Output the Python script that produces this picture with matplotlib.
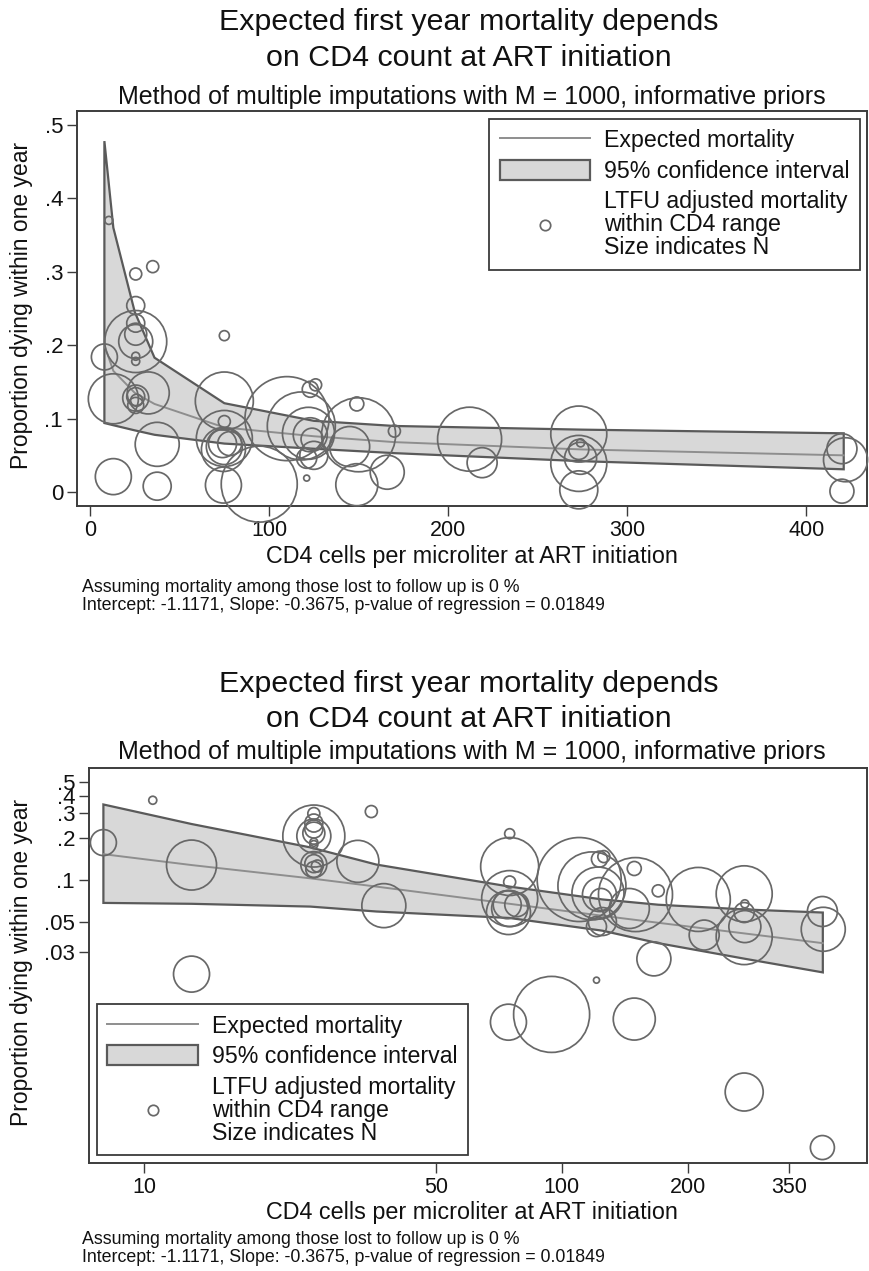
import numpy as np
import matplotlib
matplotlib.use("Agg")
import matplotlib.pyplot as plt
from matplotlib.lines import Line2D
from matplotlib.patches import Patch

plt.rcParams['font.family'] = ['Liberation Sans', 'DejaVu Sans']

# ---------------- data ----------------
# LTFU adjusted mortality within CD4 range (circles); size_n ~ N (area)
cd4 = [8, 10.5, 13, 13, 25.5, 25.5, 25.5, 25.5, 25.5, 25.5, 25.5, 25.5,
       25.5, 25.5, 26, 25.5, 32.5, 35, 37.5, 37.5,
       75, 75, 75, 75, 74.5, 74, 78, 75, 74.5, 94.5,
       110, 118, 122, 123, 124, 123, 126, 121, 125, 121,
       149, 150, 145, 170, 149, 166,
       212, 219, 273, 274, 273, 274, 273, 273,
       420, 422, 420]
mort = [0.184, 0.37, 0.127, 0.021, 0.205, 0.205, 0.297, 0.254, 0.230, 0.215, 0.185, 0.178,
        0.128, 0.130, 0.125, 0.118, 0.135, 0.307, 0.065, 0.008,
        0.213, 0.124, 0.096, 0.073, 0.058, 0.066, 0.066, 0.062, 0.0095, 0.0108,
        0.100, 0.090, 0.080, 0.078, 0.072, 0.140, 0.146, 0.046, 0.050, 0.019,
        0.120, 0.078, 0.062, 0.083, 0.010, 0.027,
        0.072, 0.040, 0.079, 0.067, 0.058, 0.046, 0.039, 0.003,
        0.059, 0.044, 0.0012]
size_n = [169, 16, 625, 324, 961, 289, 36, 81, 81, 121, 16, 16,
          169, 81, 36, 64, 441, 36, 484, 196,
          25, 841, 36, 784, 484, 196, 144, 324, 324, 1444,
          1764, 1156, 676, 289, 121, 64, 36, 100, 196, 9,
          49, 1369, 400, 36, 441, 289,
          1024, 225, 784, 16, 100, 256, 784, 361,
          225, 484, 144]

# Expected mortality and 95% CI
band_cd4 = [8, 13, 25, 36, 75, 125, 170, 275, 421]
lin_upper = [0.478, 0.36, 0.245, 0.183, 0.121, 0.097, 0.090, 0.085, 0.080]
lin_lower = [0.094, 0.091, 0.084, 0.078, 0.066, 0.059, 0.053, 0.042, 0.031]
lin_mid = [0.20, 0.165, 0.135, 0.12, 0.088, 0.076, 0.068, 0.058, 0.050]
log_upper = [0.345, 0.25, 0.17, 0.128, 0.089, 0.072, 0.066, 0.061, 0.058]
log_lower = [0.068, 0.067, 0.064, 0.059, 0.053, 0.043, 0.035, 0.027, 0.0216]
log_mid = [0.152, 0.127, 0.102, 0.089, 0.067, 0.055, 0.049, 0.041, 0.035]

lin_yticks = [0, 0.1, 0.2, 0.3, 0.4, 0.5]
lin_ylabels = ['0', '.1', '.2', '.3', '.4', '.5']
lin_xticks = [0, 100, 200, 300, 400]
log_yticks = [0.03, 0.05, 0.1, 0.2, 0.3, 0.4, 0.5]
log_ylabels = ['.03', '.05', '.1', '.2', '.3', '.4', '.5']
log_xticks = [10, 50, 100, 200, 350]

title1 = "Expected first year mortality depends"
title2 = "on CD4 count at ART initiation"
subtitle = "Method of multiple imputations with M = 1000, informative priors"
ylab = "Proportion dying within one year"
xlab = "CD4 cells per microliter at ART initiation"
note1 = "Assuming mortality among those lost to follow up is 0 %"
note2 = "Intercept: -1.1171, Slope: -0.3675, p-value of regression = 0.01849"
leg_labels = ["Expected mortality", "95% confidence interval",
              "LTFU adjusted mortality\nwithin CD4 range\nSize indicates N"]

# ---------------- style ----------------
W, H = 870, 1271
DPI = 100
FILL = '#d8d8d8'
EDGE = '#5a5a5a'
LINEC = '#8e8e8e'
CIRC = '#686868'
SPINE = '#3c3c3c'
TXT = '#111111'

fig = plt.figure(figsize=(W / DPI, H / DPI), dpi=DPI)


def fx(px):
    return px / W


def fy(py):
    return 1 - py / H


def draw_panel(ax, upper, lower, mid):
    poly_x = list(band_cd4) + list(band_cd4[::-1])
    poly_y = list(upper) + list(lower[::-1])
    ax.fill(poly_x, poly_y, facecolor=FILL, edgecolor=EDGE, linewidth=1.6, zorder=1)
    ax.plot(band_cd4, mid, color=LINEC, linewidth=1.4, zorder=2)
    s = np.array(size_n) * (1.44 ** 2)
    ax.scatter(cd4, mort, s=s, facecolors='none', edgecolors=CIRC,
               linewidths=1.25, zorder=3, clip_on=False)
    for sp in ax.spines.values():
        sp.set_color(SPINE)
        sp.set_linewidth(1.4)
    ax.tick_params(axis='both', which='major', direction='out', length=7,
                   width=1.0, color=SPINE, labelcolor=TXT)
    ax.tick_params(axis='y', labelsize=16, pad=3)
    ax.tick_params(axis='x', labelsize=15.5, pad=3)
    ax.tick_params(axis='both', which='minor', length=0)


def legend(ax, loc, anchor):
    handles = [Line2D([0], [0], color=LINEC, lw=1.4),
               Patch(facecolor=FILL, edgecolor=EDGE, linewidth=1.6),
               Line2D([0], [0], marker='o', linestyle='none', markersize=7.5,
                      markerfacecolor='none', markeredgecolor=CIRC, markeredgewidth=1.25)]
    leg = ax.legend(handles, leg_labels, loc=loc, bbox_to_anchor=anchor,
                    bbox_transform=fig.transFigure, fontsize=16.7, frameon=True,
                    fancybox=False, framealpha=1, edgecolor=SPINE,
                    handlelength=3.9, handleheight=0.95, handletextpad=0.6,
                    borderpad=0.45, borderaxespad=0, labelspacing=0.32)
    leg.get_frame().set_linewidth(1.3)
    leg.set_zorder(10)
    leg.get_texts()[2].set_linespacing(1.0)
    for t in leg.get_texts():
        t.set_color(TXT)
    return leg


def headings(y_t1, y_t2, y_sub, y_ylab, y_xlab, y_n1, y_n2):
    fig.text(fx(469), fy(y_t1), title1, ha='center', va='center', fontsize=21.9, color=TXT)
    fig.text(fx(469), fy(y_t2), title2, ha='center', va='center', fontsize=21.9, color=TXT)
    fig.text(fx(472), fy(y_sub), subtitle, ha='center', va='center', fontsize=18, color=TXT)
    fig.text(fx(22), fy(y_ylab), ylab, ha='center', va='center', rotation=90, fontsize=16.5, color=TXT)
    fig.text(fx(472), fy(y_xlab), xlab, ha='center', va='center', fontsize=16.8, color=TXT)
    fig.text(fx(82), fy(y_n1), note1, ha='left', va='center', fontsize=12.8, color=TXT)
    fig.text(fx(82), fy(y_n2), note2, ha='left', va='center', fontsize=12.8, color=TXT)


# ---------------- top panel (linear) ----------------
ax1 = fig.add_axes([fx(77), fy(506), (867 - 77) / W, (506 - 111) / H])
draw_panel(ax1, lin_upper, lin_lower, lin_mid)
ax1.set_xlim(-7.3, 434)
ax1.set_ylim(-0.019, 0.519)
ax1.set_yticks(lin_yticks)
ax1.set_yticklabels(lin_ylabels)
ax1.set_xticks(lin_xticks)
ax1.set_xticklabels([str(v) for v in lin_xticks])
legend(ax1, 'upper right', (fx(860), fy(119)))
headings(22, 58, 97, 305, 556, 588, 605)

# ---------------- bottom panel (log-log) ----------------
ax2 = fig.add_axes([fx(89), fy(1163), (867 - 89) / W, (1163 - 768) / H])
ax2.set_xscale('log')
ax2.set_yscale('log')
draw_panel(ax2, log_upper, log_lower, log_mid)
ax2.set_xlim(7.39, 537)
ax2.set_ylim(0.00093, 0.63)
ax2.set_yticks(log_yticks)
ax2.set_yticklabels(log_ylabels)
ax2.set_xticks(log_xticks)
ax2.set_xticklabels([str(v) for v in log_xticks])
ax2.yaxis.set_minor_locator(matplotlib.ticker.NullLocator())
ax2.xaxis.set_minor_locator(matplotlib.ticker.NullLocator())
legend(ax2, 'lower left', (fx(97), fy(1155)))
headings(684, 719, 752, 962, 1213, 1240, 1257)

fig.savefig('out.png', dpi=DPI)
